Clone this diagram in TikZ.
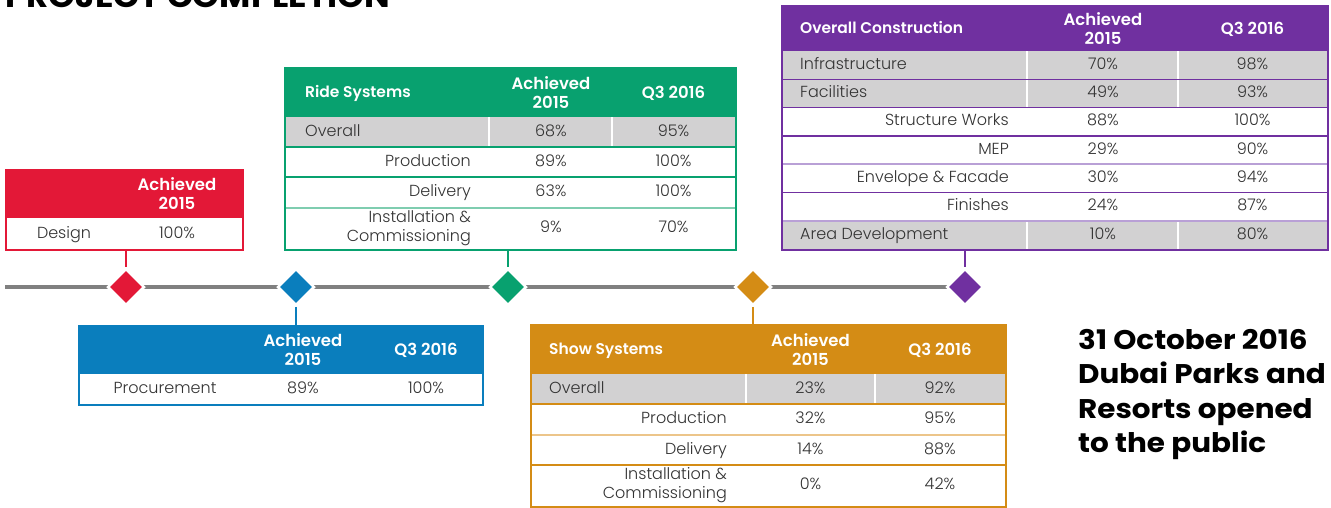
\documentclass[tikz,border=0pt]{standalone}
\usepackage{fontspec}
\setmainfont{Poppins}[UprightFont=* Light,BoldFont=* SemiBold]
\newfontfamily\pbold{Poppins}[UprightFont=* Bold,FakeStretch=1.1]
\newfontfamily\pboldb{Poppins}[UprightFont=* Bold,FakeStretch=1.09]
\usetikzlibrary{shapes.geometric}
\definecolor{cR}{HTML}{E31837}
\definecolor{cB}{HTML}{0A7EBD}
\definecolor{cG}{HTML}{08A16F}
\definecolor{cO}{HTML}{D48C15}
\definecolor{cP}{HTML}{7030A0}
\definecolor{lG}{HTML}{7FCDB0}
\definecolor{lO}{HTML}{ECC58A}
\definecolor{lP}{HTML}{B9A0D6}
\definecolor{rowgray}{HTML}{D2D1D2}
\definecolor{txt}{HTML}{333333}
\definecolor{tl}{HTML}{808080}
\pgfdeclarelayer{bg}\pgfsetlayers{bg,main}
\tikzset{
  body/.style={font=\fontsize{16}{19}\selectfont, text=txt, inner sep=0pt, text height=11.5pt, text depth=3.5pt},
  lab/.style={body, anchor=west},
  sub/.style={body, anchor=east},
  subtwo/.style={font=\fontsize{16}{19}\selectfont, text=txt, inner sep=0pt, anchor=east, align=right},
  hd/.style={font=\fontsize{16.5}{19}\selectfont\bfseries, text=white, inner sep=0pt, align=center},
  hdl/.style={font=\fontsize{15.5}{19}\selectfont\bfseries, text=white, inner sep=0pt, anchor=west, text height=11.5pt, text depth=3.5pt},
  frame/.style={draw, line width=1.5pt, inner sep=0pt, anchor=north west},
  conn/.style={line width=1.5pt},
  ms/.style={diamond, draw=white, line width=2.5pt, minimum size=37pt, inner sep=0pt},
  rule/.style={line width=1.3pt},
  wdiv/.style={white, line width=1.5pt},
  bigt/.style={font=\pboldb\fontsize{27}{30}\selectfont, text=black, inner sep=0pt, anchor=base west},
}
\begin{document}
\begin{tikzpicture}[x=1pt,y=-1pt]
\useasboundingbox (0,0) rectangle (1331,507);
\begin{pgfonlayer}{bg}
\fill[white] (0,0) rectangle (1331,507);
\end{pgfonlayer}

% title (cut by the top edge)
\node[font=\pbold\fontsize{31}{31}\selectfont, text=black, inner sep=0pt, anchor=base west] (title) at (5,7) {PROJECT COMPLETION};

% ---------- red table
\fill[cR] (5,169) rectangle (242,218);
\node[frame, draw=cR, minimum width=237pt, minimum height=80pt] (tR) at (5,169) {};
\node[hd] (rh1) at (177,193.5) {Achieved\\2015};
\node[body] (rv1) at (64,234) {Design};
\node[body] (rv2) at (177,234) {100\%};

% ---------- blue table
\fill[cB] (78,325) rectangle (482,374);
\node[frame, draw=cB, minimum width=404pt, minimum height=79pt] (tB) at (78,325) {};
\node[hd] (bh1) at (303,350) {Achieved\\2015};
\node[hd] (bh2) at (426,350) {Q3 2016};
\node[body] (bv1) at (165,389) {Procurement};
\node[body] (bv2) at (303,389) {89\%};
\node[body] (bv3) at (426,389) {100\%};

% ---------- green table
\fill[cG] (284,67) rectangle (735,117);
\fill[rowgray] (284,117) rectangle (735,147);
\draw[wdiv] (489,117) -- (489,147) (612,117) -- (612,147);
\draw[rule, cG] (284,147) -- (735,147) (284,177) -- (735,177);
\draw[rule, lG] (284,208) -- (735,208);
\node[frame, draw=cG, minimum width=451pt, minimum height=182pt] (tG) at (284,67) {};
\node[hdl] (gh0) at (305,93) {Ride Systems};
\node[hd] (gh1) at (551,93) {Achieved\\2015};
\node[hd] (gh2) at (673.5,93) {Q3 2016};
\node[lab] (g1a) at (305,132) {Overall};
\node[body] (g1b) at (551,132) {68\%};
\node[body] (g1c) at (673.5,132) {95\%};
\node[sub] (g2a) at (471,162) {Production};
\node[body] (g2b) at (551,162) {89\%};
\node[body] (g2c) at (673.5,162) {100\%};
\node[sub] (g3a) at (471,192.5) {Delivery};
\node[body] (g3b) at (551,192.5) {63\%};
\node[body] (g3c) at (673.5,192.5) {100\%};
\node[subtwo] (g4a) at (471,228.5) {Installation \&\\Commissioning};
\node[body] (g4b) at (551,228.5) {9\%};
\node[body] (g4c) at (673.5,228.5) {70\%};

% ---------- orange table
\fill[cO] (530,324) rectangle (1005,374);
\fill[rowgray] (530,374) rectangle (1005,404);
\draw[wdiv] (746,374) -- (746,404) (875,374) -- (875,404);
\draw[rule, cO] (530,404) -- (1005,404) (530,465) -- (1005,465);
\draw[rule, lO] (530,435) -- (1005,435);
\node[frame, draw=cO, minimum width=475pt, minimum height=182pt] (tO) at (530,324) {};
\node[hdl] (oh0) at (549,350) {Show Systems};
\node[hd] (oh1) at (810.5,350) {Achieved\\2015};
\node[hd] (oh2) at (940,350) {Q3 2016};
\node[lab] (o1a) at (549,389) {Overall};
\node[body] (o1b) at (810.5,389) {23\%};
\node[body] (o1c) at (940,389) {92\%};
\node[sub] (o2a) at (727,419.5) {Production};
\node[body] (o2b) at (810.5,419.5) {32\%};
\node[body] (o2c) at (940,419.5) {95\%};
\node[sub] (o3a) at (727,450) {Delivery};
\node[body] (o3b) at (810.5,450) {14\%};
\node[body] (o3c) at (940,450) {88\%};
\node[subtwo] (o4a) at (727,485.5) {Installation \&\\Commissioning};
\node[body] (o4b) at (810.5,485.5) {0\%};
\node[body] (o4c) at (940,485.5) {42\%};

% ---------- purple table
\fill[cP] (781,5) rectangle (1327,51);
\fill[rowgray] (781,51) rectangle (1327,107.5);
\fill[rowgray] (781,221) rectangle (1327,249);
\draw[wdiv] (1027,51) -- (1027,107.5) (1178,51) -- (1178,107.5)
                (1027,221) -- (1027,249) (1178,221) -- (1178,249);
\draw[rule, cP] (781,79.5) -- (1327,79.5) (781,107.5) -- (1327,107.5)
                (781,136) -- (1327,136) (781,192.5) -- (1327,192.5);
\draw[rule, lP] (781,164) -- (1327,164) (781,221) -- (1327,221);
\node[frame, draw=cP, minimum width=546pt, minimum height=244pt] (tP) at (781,5) {};
\node[hdl] (ph0) at (800,29) {Overall Construction};
\node[hd] (ph1) at (1103,29) {Achieved\\2015};
\node[hd] (ph2) at (1252.5,29) {Q3 2016};
\node[lab] (p1a) at (800,65.3) {Infrastructure};
\node[body] (p1b) at (1103,65.3) {70\%};
\node[body] (p1c) at (1252.5,65.3) {98\%};
\node[lab] (p2a) at (800,93.5) {Facilities};
\node[body] (p2b) at (1103,93.5) {49\%};
\node[body] (p2c) at (1252.5,93.5) {93\%};
\node[sub] (p3a) at (1009,121.8) {Structure Works};
\node[body] (p3b) at (1103,121.8) {88\%};
\node[body] (p3c) at (1252.5,121.8) {100\%};
\node[sub] (p4a) at (1009,150) {MEP};
\node[body] (p4b) at (1103,150) {29\%};
\node[body] (p4c) at (1252.5,150) {90\%};
\node[sub] (p5a) at (1009,178.3) {Envelope \& Facade};
\node[body] (p5b) at (1103,178.3) {30\%};
\node[body] (p5c) at (1252.5,178.3) {94\%};
\node[sub] (p6a) at (1009,206.8) {Finishes};
\node[body] (p6b) at (1103,206.8) {24\%};
\node[body] (p6c) at (1252.5,206.8) {87\%};
\node[lab] (p7a) at (800,235) {Area Development};
\node[body] (p7b) at (1103,235) {10\%};
\node[body] (p7c) at (1252.5,235) {80\%};

% ---------- timeline
\coordinate (L0) at (5,287);
\node[ms, fill=cR] (dR) at (126,287) {};
\node[ms, fill=cB] (dB) at (296,287) {};
\node[ms, fill=cG] (dG) at (508,287) {};
\node[ms, fill=cO] (dO) at (753,287) {};
\node[ms, fill=cP] (dP) at (965,287) {};
\begin{pgfonlayer}{bg}
\draw[tl, line width=4pt] (L0) -- (dP.center);
\end{pgfonlayer}
\draw[conn, cR] (dR.north |- tR.south) -- (dR.north);
\draw[conn, cB] (dB.south) -- (dB.south |- tB.north);
\draw[conn, cG] (dG.north |- tG.south) -- (dG.north);
\draw[conn, cO] (dO.south) -- (dO.south |- tO.north);
\draw[conn, cP] (dP.north |- tP.south) -- (dP.north);

% ---------- closing statement
\node[bigt] (s1) at (1078,349) {31 October 2016};
\node[bigt] (s2) at (1078,383.5) {Dubai Parks and};
\node[bigt] (s3) at (1078,418) {Resorts opened};
\node[bigt] (s4) at (1078,452.5) {to the public};
\end{tikzpicture}
\end{document}
